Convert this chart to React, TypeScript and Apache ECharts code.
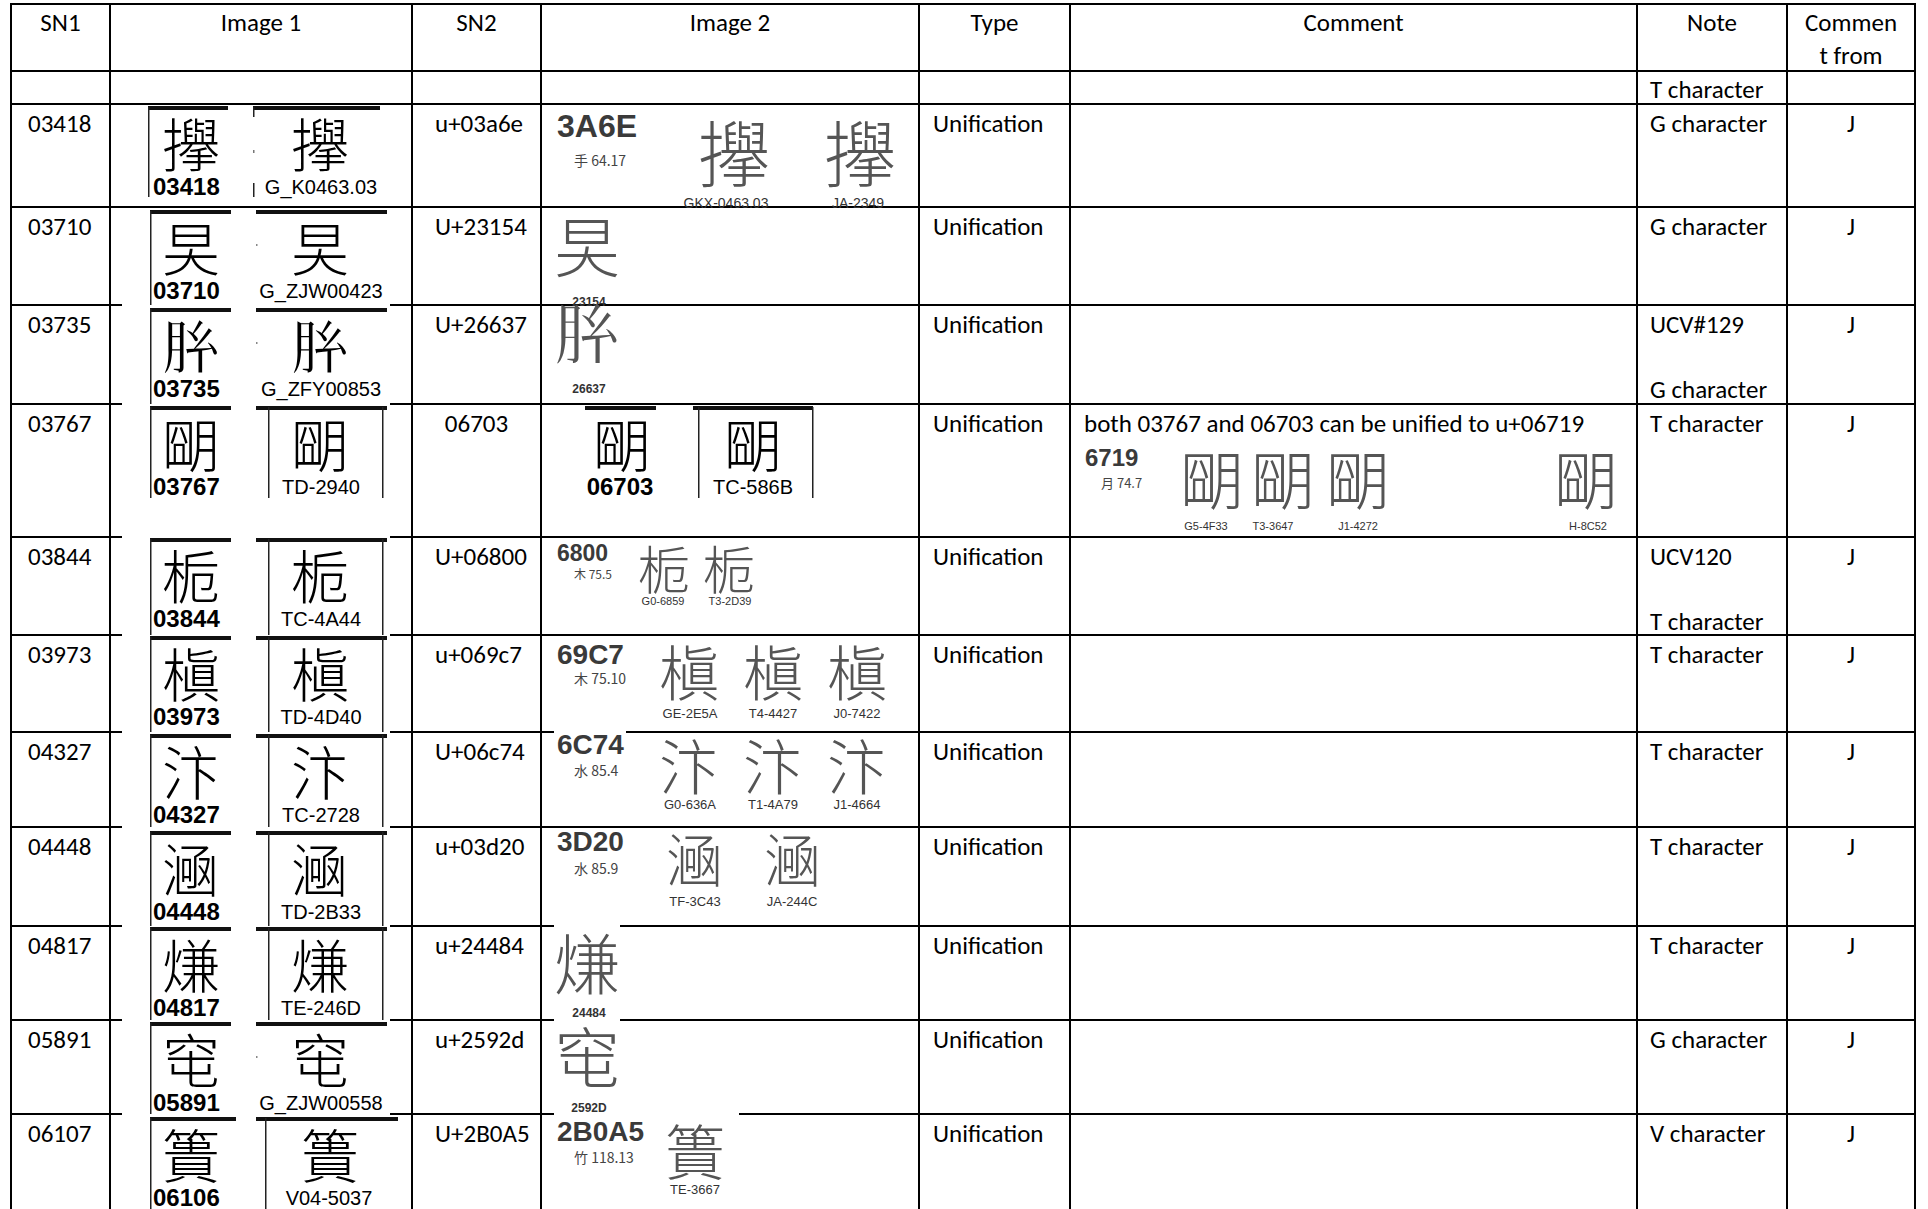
import React, { useEffect, useRef } from "react";
import * as echarts from "echarts";

// ---------- data ----------
const headers = ["SN1", "Image 1", "SN2", "Image 2", "Type", "Comment", "Note"];
const headerLast = ["Commen", "t from"];
const emptyRowNote = "T character";

const sn1 = ["03418", "03710", "03735", "03767", "03844", "03973", "04327", "04448", "04817", "05891", "06107"];
const sn2 = ["u+03a6e", "U+23154", "U+26637", "06703", "U+06800", "u+069c7", "U+06c74", "u+03d20", "u+24484", "u+2592d", "U+2B0A5"];
const types = ["Unification", "Unification", "Unification", "Unification", "Unification", "Unification", "Unification", "Unification", "Unification", "Unification", "Unification"];
const comments = ["", "", "", "both 03767 and 06703 can be unified to u+06719", "", "", "", "", "", "", ""];
const notes = [
  ["G character"], ["G character"], ["UCV#129", "G character"], ["T character"],
  ["UCV120", "T character"], ["T character"], ["T character"], ["T character"],
  ["T character"], ["G character"], ["V character"],
];
const commentFrom = ["J", "J", "J", "J", "J", "J", "J", "J", "J", "J", "J"];

// Image 1: evidence glyph (nearest glyph the installed CJK font can draw), serial and source
const img1Chars = ["\u3A6E", "\u65F2", "\u{26637}", "\u6719", "\u6800", "\u69C7", "\u6C74", "\u3D20", "\u7191", "\u7A80", "\u7C23"];
const img1Serial = ["03418", "03710", "03735", "03767", "03844", "03973", "04327", "04448", "04817", "05891", "06106"];
const img1Source = ["G_K0463.03", "G_ZJW00423", "G_ZFY00853", "TD-2940", "TC-4A44", "TD-4D40", "TC-2728", "TD-2B33", "TE-246D", "G_ZJW00558", "V04-5037"];

// Image 2: code-chart excerpts
const img2Codes = ["3A6E", "23154", "26637", "", "6800", "69C7", "6C74", "3D20", "24484", "2592D", "2B0A5"];
const img2RadStroke = ["手 64.17", "", "", "", "木 75.5", "木 75.10", "水 85.4", "水 85.9", "", "", "竹 118.13"];
const img2Sources = [
  ["GKX-0463.03", "JA-2349"], [], [], [],
  ["G0-6859", "T3-2D39"], ["GE-2E5A", "T4-4427", "J0-7422"], ["G0-636A", "T1-4A79", "J1-4664"],
  ["TF-3C43", "JA-244C"], [], [], ["TE-3667"],
];
const img2BoxSerial = ["06703", "TC-586B"]; // row 03767, image 2
// Comment cell of row 03767
const cmtCode = "6719";
const cmtRadStroke = "月 74.7";
const cmtGlyph = "\u6719";
const cmtSources = ["G5-4F33", "T3-3647", "J1-4272", "H-8C52"];

// ---------- layout ----------
const W = 1928, H = 1209;
const colX = [11, 110, 412, 541, 919, 1070, 1637, 1787, 1915];
const rowY = [4, 71, 104, 207, 305, 404, 537, 635, 732, 827, 926, 1020, 1114];
const imgTop = [107, 211, 309, 407, 539, 637, 735, 832, 928, 1023, 1118];

const BODY = "Carlito, Lato, 'Noto Sans', sans-serif";
const ARIAL = "'Liberation Sans', Arial, sans-serif";
const CJK = "'Noto Sans CJK SC', 'Noto Sans CJK JP', 'Noto Sans CJK TC', sans-serif";
const FS = 25;

function buildElements() {
  const els: any[] = [];
  const rect = (x: number, y: number, w: number, h: number, fill: string, z = 1) =>
    els.push({ type: "rect", shape: { x, y, width: w, height: h }, style: { fill }, z, silent: true });
  const text = (t: string, x: number, y: number, o: any, z = 3) =>
    els.push({
      type: "text", x, y, z, silent: true,
      style: {
        text: t, fontSize: o.size, fontFamily: o.family, fontWeight: o.weight || "normal",
        fill: o.color || "#000", align: o.align || "left", verticalAlign: o.valign || "middle",
      },
    });

  // grid
  colX.forEach((x) => rect(x - 1, rowY[0] - 1, 2, H - rowY[0] + 1, "#000"));
  rowY.forEach((y) => rect(colX[0] - 1, y - 1, colX[colX.length - 1] - colX[0] + 2, 2, "#000"));

  // header
  headers.forEach((h, i) => {
    text(h, (colX[i] + colX[i + 1]) / 2, 22, { size: FS, family: BODY, align: "center" });
  });
  const lc = (colX[7] + colX[8]) / 2;
  text(headerLast[0], lc, 22, { size: FS, family: BODY, align: "center" });
  text(headerLast[1], lc, 55, { size: FS, family: BODY, align: "center" });
  text(emptyRowNote, colX[6] + 13, 89, { size: FS, family: BODY });

  const bodyFont = { size: FS, family: BODY };
  for (let i = 0; i < sn1.length; i++) {
    const top = rowY[i + 2];
    const bottom = i + 3 < rowY.length ? rowY[i + 3] : H;
    const ty = top + 19;
    text(sn1[i], 28, ty, bodyFont);
    if (i === 3) text(sn2[i], (colX[2] + colX[3]) / 2, ty, { ...bodyFont, align: "center" });
    else text(sn2[i], 435, ty, bodyFont);
    text(types[i], 933, ty, bodyFont);
    if (comments[i]) text(comments[i], 1084, ty, bodyFont);
    text(notes[i][0], colX[6] + 13, ty, bodyFont);
    if (notes[i][1]) text(notes[i][1], colX[6] + 13, top + 84, bodyFont);
    text(commentFrom[i], lc, ty, { ...bodyFont, align: "center" });

    // ---- Image 1 pasted picture ----
    const it = imgTop[i];
    if (i > 1) rect(122, top - 2, 268, bottom - top, "#fff", 2);
    const b1x = i === 0 ? 148 : 150;
    const b1r = i === 0 ? 228 : i === 10 ? 236 : 231;
    const b2x = i === 0 ? 253 : 256;
    const b2r = i === 0 ? 380 : i === 10 ? 398 : 387;
    rect(b1x, it - 1, b1r - b1x, 4, "#111", 3);
    rect(b2x, it - 1, b2r - b2x, 4, "#111", 3);
    const vBottom = i === 0 ? 197 : i === 3 ? 498 : bottom;
    rect(b1x, it, 1.5, vBottom - it, "#222", 3);
    if (i === 0) {
      rect(b2x, it, 1.5, 10, "#222", 3);
      rect(b2x, 183, 1.5, 14, "#222", 3);
      rect(b2x, 150, 1.5, 3, "#777", 3);
    } else if (i === 10) {
      rect(265, it, 1.5, vBottom - it, "#222", 3);
    } else if (i >= 3 && i <= 8) {
      rect(268, it, 1.5, vBottom - it, "#222", 3);
      rect(382, it, 1.5, vBottom - it, "#222", 3);
    } else {
      rect(b2x, it + 33, 1.5, 2, "#888", 3);
    }
    const c2x = i === 10 ? 330 : 320;
    text(img1Chars[i], 191, it + 35, { size: 58, family: CJK, weight: 300, align: "center" });
    text(img1Chars[i], c2x, it + 35, { size: 58, family: CJK, weight: 300, align: "center" });
    text(img1Serial[i], 153, it + 79, { size: 24, family: ARIAL, weight: "bold" });
    text(img1Source[i], i === 10 ? 329 : 321, it + 80, { size: 20, family: ARIAL, align: "center" });

    // ---- Image 2 ----
    const srcs = img2Sources[i];
    if (i === 3) {
      rect(585, it - 1, 71, 4, "#111", 3);
      rect(693, it - 1, 120, 4, "#111", 3);
      rect(698, it, 1.5, 498 - it, "#222", 3);
      rect(812, it, 1.5, 498 - it, "#222", 3);
      text(img1Chars[i], 622, it + 35, { size: 58, family: CJK, weight: 300, align: "center" });
      text(img1Chars[i], 753, it + 35, { size: 58, family: CJK, weight: 300, align: "center" });
      text(img2BoxSerial[0], 620, it + 79, { size: 24, family: ARIAL, weight: "bold", align: "center" });
      text(img2BoxSerial[1], 753, it + 80, { size: 20, family: ARIAL, align: "center" });
    } else if (srcs.length === 0) {
      // single glyph excerpt
      const gy: Record<number, number> = { 1: 243, 2: 330, 8: 960, 9: 1054 };
      const ly: Record<number, number> = { 1: 302, 2: 389, 8: 1013, 9: 1108 };
      if (i >= 8) rect(554, top - 2, 66, 5, "#fff", 2);
      text(img1Chars[i], 587, gy[i], { size: 66, family: CJK, weight: 300, color: "#555", align: "center" });
      text(img2Codes[i], 589, ly[i], { size: 12, family: ARIAL, weight: "bold", color: "#333", align: "center" });
    } else {
      const cfg: Record<number, any> = {
        0: { codeY: 126, codeSize: 32, rsY: 160, gY: 149, gSize: 72, lY: 203, xs: [734, 860], lxs: [726, 858], lSize: 14 },
        4: { codeY: 553, codeSize: 23, rsY: 573, gY: 567, gSize: 52, lY: 601, xs: [664, 729], lxs: [663, 730], lSize: 11, rsSize: 12 },
        5: { codeY: 654, codeSize: 28, rsY: 678, gY: 669, gSize: 60, lY: 713, xs: [689, 773, 857], lxs: [690, 773, 857], lSize: 13 },
        6: { codeY: 744, codeSize: 28, rsY: 770, gY: 763, gSize: 60, lY: 804, xs: [689, 773, 857], lxs: [690, 773, 857], lSize: 13 },
        7: { codeY: 841, codeSize: 28, rsY: 868, gY: 857, gSize: 58, lY: 901, xs: [695, 793], lxs: [695, 792], lSize: 13 },
        10: { codeY: 1131, codeSize: 28, rsY: 1157, gY: 1148, gSize: 60, lY: 1189, xs: [695], lxs: [695], lSize: 13 },
      };
      const c = cfg[i];
      if (i === 6) rect(554, top - 3, 72, 8, "#fff", 2);
      if (i === 10) rect(554, top - 2, 185, 5, "#fff", 2);
      text(img2Codes[i], 557, c.codeY, { size: c.codeSize, family: ARIAL, weight: "bold", color: "#3a3a3a" });
      text(img2RadStroke[i], 574, c.rsY, { size: c.rsSize || 14, family: CJK, color: "#444" });
      c.xs.forEach((x: number) =>
        text(img1Chars[i], x, c.gY, { size: c.gSize, family: CJK, weight: 300, color: "#555", align: "center" })
      );
      srcs.forEach((s, k) =>
        text(s, c.lxs[k], c.lY, { size: c.lSize, family: ARIAL, color: "#333", align: "center" })
      );
    }
  }

  // comment-cell excerpt (row 03767)
  text(cmtCode, 1085, 457, { size: 24, family: ARIAL, weight: "bold", color: "#3a3a3a" });
  text(cmtRadStroke, 1101, 482, { size: 13, family: CJK, color: "#444" });
  [1212, 1283, 1358, 1586].forEach((x) =>
    text(cmtGlyph, x, 476, { size: 64, family: CJK, weight: 300, color: "#555", align: "center" })
  );
  [1206, 1273, 1358, 1588].forEach((x, k) =>
    text(cmtSources[k], x, 526, { size: 11, family: ARIAL, color: "#333", align: "center" })
  );
  return els;
}

export default function App() {
  const ref = useRef<HTMLDivElement>(null);
  useEffect(() => {
    document.body.style.margin = "0";
    document.body.style.overflow = "hidden";
    const chart = echarts.init(ref.current!, undefined, { renderer: "svg" });
    chart.setOption({
      animation: false,
      backgroundColor: "#fff",
      graphic: { elements: buildElements() },
    });
    return () => chart.dispose();
  }, []);
  return <div ref={ref} style={{ width: W, height: H }} />;
}
